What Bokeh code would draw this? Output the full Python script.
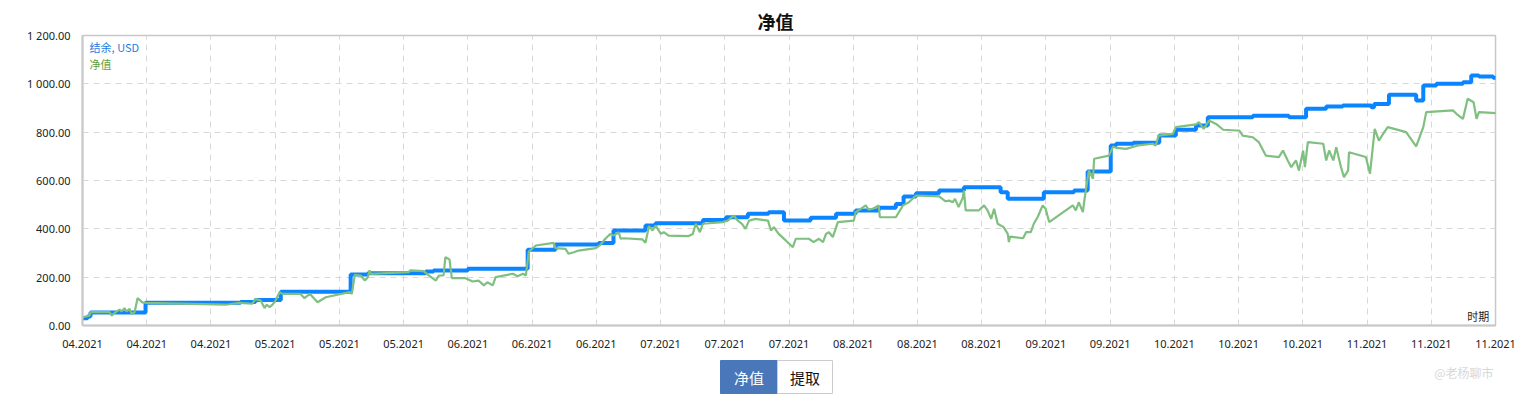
from bokeh.plotting import figure
from bokeh.models import Range1d, FixedTicker, CustomJSTickFormatter, Label
from bokeh.layouts import column
from bokeh.embed import file_html
from bokeh.resources import INLINE

# ---------------- data (x = days since 2021-04-01) ----------------
tick_labels = ["04.2021", "04.2021", "04.2021", "05.2021", "05.2021", "05.2021",
               "06.2021", "06.2021", "06.2021", "07.2021", "07.2021", "07.2021",
               "08.2021", "08.2021", "08.2021", "09.2021", "09.2021", "10.2021",
               "10.2021", "10.2021", "11.2021", "11.2021", "11.2021"]
tick_step_days = 10.85
y_ticks = [0, 200, 400, 600, 800, 1000, 1200]
y_tick_labels = ["0.00", "200.00", "400.00", "600.00", "800.00", "1 000.00", "1 200.00"]

balance_day = [0, 0.85, 1.35, 10.65, 26.7, 29.2, 33.5, 45.3, 48.2, 58.0, 59.3, 65.1,
               75.2, 79.9, 87.2, 89.7, 95.1, 96.8, 104.8, 108.7, 112.4, 115.9, 118.5,
               123.0, 127.3, 130.6, 134.5, 137.4, 138.7, 140.8, 144.7, 148.9, 155.1,
               156.3, 162.4, 167.5, 169.8, 173.7, 174.6, 177.5, 181.9, 184.7, 188.1,
               190.1, 197.7, 203.8, 206.7, 210.1, 212.9, 217.7, 218.2, 220.7, 225.3,
               226.5, 228.7, 233.2, 234.6, 235.9, 238.3, 238.8]
balance_val = [30, 37, 54, 94, 97, 106, 140, 211, 216, 223, 228, 235,
               313, 335, 341, 393, 414, 423, 437, 448, 462, 469, 434,
               446, 462, 476, 487, 503, 534, 547, 559, 572, 551,
               524, 551, 559, 637, 745, 752, 756, 786, 810, 828,
               862, 868, 862, 897, 906, 910, 903, 917, 955, 931,
               993, 1000, 1007, 1034, 1030, 1025, 1022]

equity_day = [0, 1.2, 1.35, 4.6, 4.9, 5.6, 6.25, 6.6, 7.1, 7.45, 7.95, 8.3, 8.8, 9.3,
              10.1, 10.65, 24.2, 26.5, 28.7, 29.2, 30.1, 30.75, 31.1, 31.6, 32.1, 32.6,
              33.3, 33.8, 36.8, 37.5, 38.4, 39.7, 41.1, 45.1, 45.5, 46.0, 47.0, 47.7,
              48.2, 48.5, 48.7, 55.1, 55.4, 57.6, 58.5, 59.7, 60.2, 61.0, 61.3, 62.0,
              62.4, 64.7, 65.9, 66.9, 67.8, 68.4, 69.3, 69.8, 72.7, 73.5, 74.4, 74.9,
              75.4, 76.6, 79.6, 79.9, 81.6, 82.1, 83.0, 83.8, 86.7, 87.5, 88.4, 89.2,
              89.7, 90.6, 90.9, 91.4, 94.6, 95.1, 95.7, 96.3, 96.8, 97.7, 98.2, 99.0,
              102.4, 103.1, 103.6, 104.3, 104.8, 108.2, 109.0, 110.0, 110.7, 111.4,
              112.0, 112.6, 113.7, 115.8, 116.3, 116.8, 117.6, 118.8, 120.0, 120.5,
              122.7, 123.5, 124.4, 125.1, 125.6, 126.1, 126.75, 127.6, 130.3, 130.6,
              131.5, 132.3, 132.8, 133.5, 134.5, 134.7, 137.4, 138.6, 139.6, 140.8,
              144.7, 145.8, 146.4, 147.0, 147.4, 148.0, 148.7, 148.9, 149.2, 151.4,
              152.3, 152.9, 153.5, 154.0, 154.6, 155.6, 156.3, 156.5, 156.7, 158.9,
              159.4, 160.2, 160.7, 161.4, 162.2, 162.7, 163.3, 167.3, 167.8, 168.3,
              169.0, 169.2, 169.5, 170.0, 170.7, 170.9, 173.4, 174.1, 174.6, 176.3,
              178.3, 180.8, 181.3, 181.8, 184.2, 184.7, 188.1, 188.6, 189.4, 190.3,
              191.5, 192.7, 194.9, 195.4, 196.0, 197.7, 198.7, 199.9, 202.1, 202.8,
              203.6, 204.2, 205.0, 205.5, 206.2, 206.5, 207.0, 209.6, 210.1, 210.6,
              211.3, 211.8, 212.6, 213.1, 213.8, 213.95, 216.8, 217.5, 218.3, 219.0,
              219.9, 220.5, 223.6, 225.3, 226.5, 227.0, 231.5, 232.1, 233.2, 234.0,
              235.0, 235.5, 235.9, 238.8]
equity_val = [34, 41, 55, 55, 41, 55, 66, 58, 72, 58, 69, 48, 55, 113,
              96, 94, 86, 94, 90, 110, 103, 72, 86, 76, 86, 103,
              138, 131, 131, 113, 131, 96, 117, 138, 131, 210, 207, 186,
              200, 228, 214, 221, 228, 225, 207, 186, 207, 207, 283, 273,
              196, 196, 182, 186, 166, 179, 166, 200, 214, 204, 214, 207,
              306, 331, 342, 320, 317, 297, 303, 310, 320, 334, 361, 379,
              372, 386, 359, 361, 356, 342, 411, 393, 414, 379, 386, 372,
              370, 379, 421, 386, 421, 428, 434, 455, 434, 421,
              400, 434, 441, 434, 393, 407, 379, 352, 324, 359,
              359, 345, 359, 345, 379, 386, 366, 428, 434, 469,
              483, 497, 479, 483, 497, 448, 448, 497, 510, 538,
              534, 514, 517, 510, 524, 490, 528, 559, 476, 476,
              497, 476, 441, 483, 421, 407, 379, 345, 368, 361,
              386, 386, 421, 451, 497, 483, 428, 497, 476, 510,
              469, 510, 559, 641, 607, 690, 703, 741, 735, 731,
              745, 752, 745, 786, 793, 821, 832, 841, 814, 848,
              834, 810, 807, 807, 786, 779, 759, 703, 697, 724,
              683, 655, 683, 641, 724, 655, 759, 752, 683, 724,
              683, 738, 655, 614, 641, 717, 697, 628, 814, 765,
              800, 821, 800, 741, 821, 883, 890, 876, 855, 938,
              924, 855, 883, 879]

series_names = ["结余, USD", "净值"]
buttons = ["净值", "提取"]
watermark = "@老杨聊市"

# ---------------- styling ----------------
BLUE = "#0A84FF"
GREEN = "#7FBF7F"
NUM_FONT = "Noto Sans"
CJK_FONT = "Noto Sans CJK SC"
x_end = tick_step_days * (len(tick_labels) - 1)
W = 1520

p = figure(width=W, height=355, output_backend="svg", toolbar_location=None,
           x_range=Range1d(0, x_end), y_range=Range1d(0, 1200),
           min_border_left=82, min_border_right=25, min_border_top=35, min_border_bottom=30)

p.title.text = "净值"
p.title.align = "left"
p.title.offset = 675
p.title.text_font = CJK_FONT
p.title.text_font_size = "18px"
p.title.text_font_style = "bold"
p.title.text_color = "#111111"
p.title.standoff = 4

p.step(balance_day, balance_val, mode="after", line_color=BLUE, line_width=4)
p.line(equity_day, equity_val, line_color=GREEN, line_width=2.2)

p.xaxis.ticker = FixedTicker(ticks=[k * tick_step_days for k in range(len(tick_labels))])
p.xaxis.formatter = CustomJSTickFormatter(args=dict(labels=tick_labels, step=tick_step_days),
                                          code="return labels[Math.round(tick/step)] || '';")
p.yaxis.ticker = FixedTicker(ticks=y_ticks)
p.yaxis.formatter = CustomJSTickFormatter(args=dict(labels=y_tick_labels, vals=y_ticks),
                                          code="const i = vals.indexOf(Math.round(tick)); return i >= 0 ? labels[i] : '';")

for ax in (p.xaxis, p.yaxis):
    ax.major_tick_line_color = None
    ax.minor_tick_line_color = None
    ax.axis_line_color = "#C8C8C8"
    ax.axis_line_width = 2
    ax.major_label_text_font = NUM_FONT
    ax.major_label_text_font_size = "11px"
    ax.major_label_text_color = "#222222"
p.xaxis.major_label_standoff = 8
p.yaxis.major_label_standoff = 6

p.grid.grid_line_color = "#D8D8D8"
p.grid.grid_line_dash = "6 5"
p.grid.grid_line_width = 1
p.outline_line_color = "#C8C8C8"
p.outline_line_width = 1.5
p.background_fill_color = "white"
p.border_fill_color = "white"

p.add_layout(Label(x=1.2, y=1154, text=series_names[0], text_color="#1F7BE0",
                   text_font=CJK_FONT, text_font_size="11px", text_baseline="middle"))
p.add_layout(Label(x=1.2, y=1084, text=series_names[1], text_color="#5FA040",
                   text_font=CJK_FONT, text_font_size="11px", text_baseline="middle"))
p.add_layout(Label(x=235.8, y=41, text="时期", text_color="#222222", text_align="center",
                   text_font=CJK_FONT, text_font_size="11px", text_baseline="middle"))

# ---------------- button strip (x in page pixels, same horizontal frame as chart) ----------------
b = figure(width=W, height=40, output_backend="svg", toolbar_location=None,
           x_range=Range1d(82, 1495), y_range=Range1d(0, 40),
           min_border_left=82, min_border_right=25, min_border_top=0, min_border_bottom=0,
           x_axis_type=None, y_axis_type=None)
b.grid.visible = False
b.outline_line_color = None
b.quad(left=[720], right=[777], bottom=[2], top=[35], fill_color="#4A77B9", line_color="#4A77B9")
b.quad(left=[777], right=[832], bottom=[2], top=[35], fill_color="white", line_color="#CCCCCC")
b.text(x=[748.5, 804.5], y=[18.5, 18.5], text=buttons, text_color=["white", "#111111"],
       text_align="center", text_baseline="middle", text_font_size="15px",
       text_font={"value": CJK_FONT})
b.text(x=[1493], y=[23], text=[watermark], text_color="#D8D8D8", text_align="right",
       text_baseline="middle", text_font_size="12px", text_font={"value": CJK_FONT})

layout = column(p, b, spacing=0)
open("out.html", "w").write(file_html(layout, INLINE))
